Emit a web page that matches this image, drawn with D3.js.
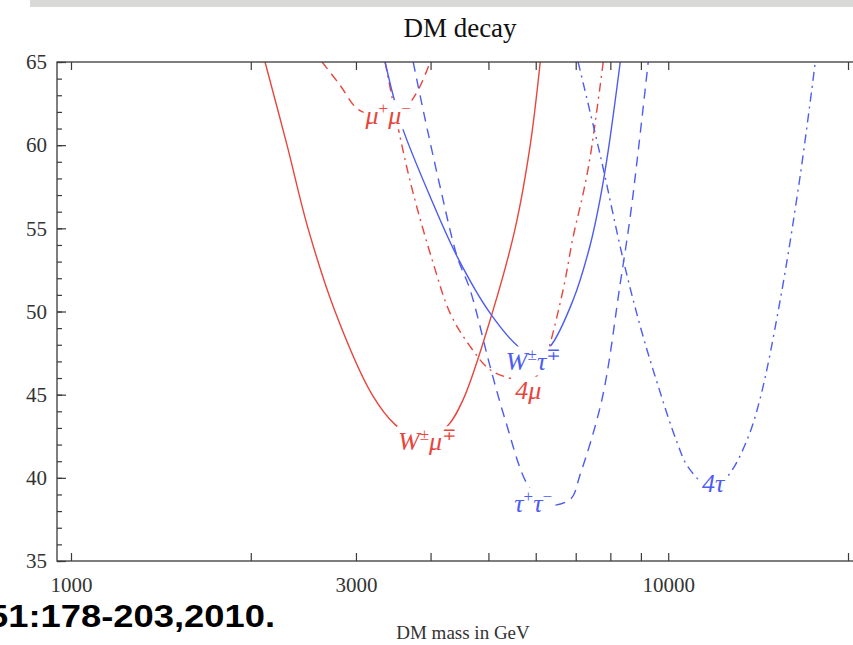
<!DOCTYPE html>
<html><head><meta charset="utf-8">
<script src="https://cdn.jsdelivr.net/npm/d3@7"></script>
<style>
html,body{margin:0;padding:0;background:#fff;}
svg{display:block;}
</style></head>
<body>
<svg id="chart" width="853" height="645"></svg>
<script>
// ---------- data (mass in GeV, value) ----------
const xTickValues = [1000,2000,3000,4000,5000,6000,7000,8000,9000,10000,20000];
const xTickLabels = [1000,3000,10000];
const yMajorTicks = [35,40,45,50,55,60,65];
const yMinorTicks = d3.range(35,66,1);

const wMuMass  = [2113,2300,2494,2768,3193,3489,3750,4000,4264,4535,5073,5543,5874,6105];
const wMuVal   = [65,60,55,50,45,43.2,42.5,42.6,43.1,44.7,49.9,55,60,65];

const muMuMass = [2633,2822,3013,3200,3420,3600,3798,3994];
const muMuVal  = [65,63.6,62.2,61.8,61.7,62.1,63.2,65];

const fourMuMass = [3357,3556,3741,4041,4313,4659,5032,5543,5830,6050,6223,6668,6932,7204,7402,7784];
const fourMuVal  = [65,60.5,57.1,52.9,49.9,47.9,46.5,45.9,45.8,46.2,47.1,51.3,54.5,57.1,59.3,65];

const wTauMass = [3357,3462,3584,3994,4432,5032,5607,5988,6343,6932,7402,7694,7937,8312];
const wTauVal  = [65,63.0,61.1,56.9,53.3,49.9,47.9,47.3,47.9,50.7,54.0,56.8,59.7,65];

const tauTauMass = [3741,3888,4150,4432,4659,5032,5333,5810,6223,6852,7121,7755,8312,8637,8911,9258];
const tauTauVal  = [65,62.1,57.5,53.3,51.3,46.7,43.5,39.6,38.4,38.7,40.2,44.8,51.7,55.7,59.7,65];

const fourTauMass = [7065,7694,8409,8979,9585,10354,10819,11895,12703,13560,14262,15402,16639,17630];
const fourTauVal  = [65,59.4,53.1,49.1,45.7,42.1,40.6,39.3,40.3,42.3,44.8,50.7,58.2,65];

const RED = "#e8453c", BLUE = "#4d5cf2";

const series = [
  {name:"W±μ∓",  mass:wMuMass,    val:wMuVal,    color:RED,  dash:null},
  {name:"μ+μ−",  mass:muMuMass,   val:muMuVal,   color:RED,  dash:"9,6"},
  {name:"4μ",    mass:fourMuMass, val:fourMuVal, color:RED,  dash:"9,5,2,5"},
  {name:"W±τ∓",  mass:wTauMass,   val:wTauVal,   color:BLUE, dash:null},
  {name:"τ+τ−",  mass:tauTauMass, val:tauTauVal, color:BLUE, dash:"10,7"},
  {name:"4τ",    mass:fourTauMass,val:fourTauVal,color:BLUE, dash:"9,5,2,5"}
];

// label anchors (data coords) and pieces: [text, superscript?]
const labels = [
  {parts:[["W",0],["±",1],["μ",0],["∓",1]], mass:3948, val:42.2, color:RED},
  {parts:[["μ",0],["+",1],["μ",0],["−",1]], mass:3397, val:61.8, color:RED},
  {parts:[["4",0],["μ",0]],                 mass:5830, val:45.3, color:RED},
  {parts:[["W",0],["±",1],["τ",0],["∓",1]], mass:5941, val:47.0, color:BLUE},
  {parts:[["τ",0],["+",1],["τ",0],["−",1]], mass:5941, val:38.5, color:BLUE},
  {parts:[["4",0],["τ",0]],                 mass:11895,val:39.7, color:BLUE}
];

// ---------- layout ----------
const svg = d3.select("#chart");
const frame = {left:57, right:862, top:62, bottom:561};
const x = d3.scaleLog().domain([1000,20000]).range([71,848]);
const y = d3.scaleLinear().domain([35,65]).range([561,62]);
const AX = "#3a3a3a";
const serif = "'Liberation Serif','DejaVu Serif',serif";

// top grey band (slide artifact)
svg.append("rect").attr("x",30).attr("y",0).attr("width",823).attr("height",7).attr("fill","#d9d9d5");

// title
svg.append("text").attr("x",460).attr("y",37).attr("text-anchor","middle")
  .attr("font-family",serif).attr("font-size",27).attr("fill","#111").text("DM decay");

// clip
svg.append("clipPath").attr("id","clip").append("rect")
  .attr("x",frame.left).attr("y",frame.top).attr("width",frame.right-frame.left).attr("height",frame.bottom-frame.top);

// curves
const line = d3.line().x(d=>x(d[0])).y(d=>y(d[1])).curve(d3.curveCatmullRom.alpha(0.5));
const gc = svg.append("g").attr("clip-path","url(#clip)");
series.forEach(s=>{
  const pts = s.mass.map((m,i)=>[m,s.val[i]]);
  gc.append("path").attr("d",line(pts)).attr("fill","none")
    .attr("stroke",s.color).attr("stroke-width",1.4)
    .attr("stroke-dasharray",s.dash);
});

// labels with white background
labels.forEach(l=>{
  const g = svg.append("g");
  const t = g.append("text").attr("x",x(l.mass)).attr("y",y(l.val)+9)
    .attr("text-anchor","middle").attr("font-family",serif).attr("font-style","italic")
    .attr("font-size",26).attr("fill",l.color);
  let sup = false;
  l.parts.forEach(p=>{
    if(p[1]){ t.append("tspan").attr("font-size",17).attr("font-style","normal").attr("dy",-10).text(p[0]); sup=true; }
    else { t.append("tspan").attr("dy",sup?10:0).text(p[0]); sup=false; }
  });
  const bb = t.node().getBBox();
  g.insert("rect","text").attr("x",bb.x-1).attr("y",bb.y+1).attr("width",bb.width+2).attr("height",bb.height-2).attr("fill","#fff");
});

// frame
svg.append("rect").attr("x",frame.left).attr("y",frame.top)
  .attr("width",frame.right-frame.left).attr("height",frame.bottom-frame.top)
  .attr("fill","none").attr("stroke",AX).attr("stroke-width",1.3);

// x axes
const xb = svg.append("g").attr("transform",`translate(0,${frame.bottom})`)
  .call(d3.axisBottom(x).tickValues(xTickValues).tickSize(-8).tickPadding(16)
    .tickFormat(d=>xTickLabels.includes(d)?String(d):""));
const xt = svg.append("g").attr("transform",`translate(0,${frame.top})`)
  .call(d3.axisTop(x).tickValues(xTickValues).tickSize(-8).tickFormat(""));
// y axes
const ymin = svg.append("g").attr("transform",`translate(${frame.left},0)`)
  .call(d3.axisLeft(y).tickValues(yMinorTicks).tickSize(-5).tickFormat(""));
const ymaj = svg.append("g").attr("transform",`translate(${frame.left},0)`)
  .call(d3.axisLeft(y).tickValues(yMajorTicks).tickSize(-9).tickPadding(10).tickFormat(d3.format("d")));
[xb,xt,ymin,ymaj].forEach(g=>{
  g.select(".domain").remove();
  g.selectAll(".tick line").attr("stroke",AX).attr("stroke-width",1.2);
  g.selectAll(".tick text").attr("font-family",serif).attr("font-size",21).attr("fill","#333");
});

// x axis title
svg.append("text").attr("x",463).attr("y",639).attr("text-anchor","middle")
  .attr("font-family",serif).attr("font-size",19).attr("fill","#333").text("DM mass in GeV");

// citation fragment (cut off at the left edge, as in the reference)
svg.append("text").attr("x",-12).attr("y",627)
  .attr("font-family","'Liberation Sans Narrow','Liberation Sans',sans-serif").attr("font-weight","bold")
  .attr("font-size",31).attr("fill","#000").attr("textLength",287).attr("lengthAdjust","spacingAndGlyphs")
  .text("51:178-203,2010.");
</script>
</body></html>
